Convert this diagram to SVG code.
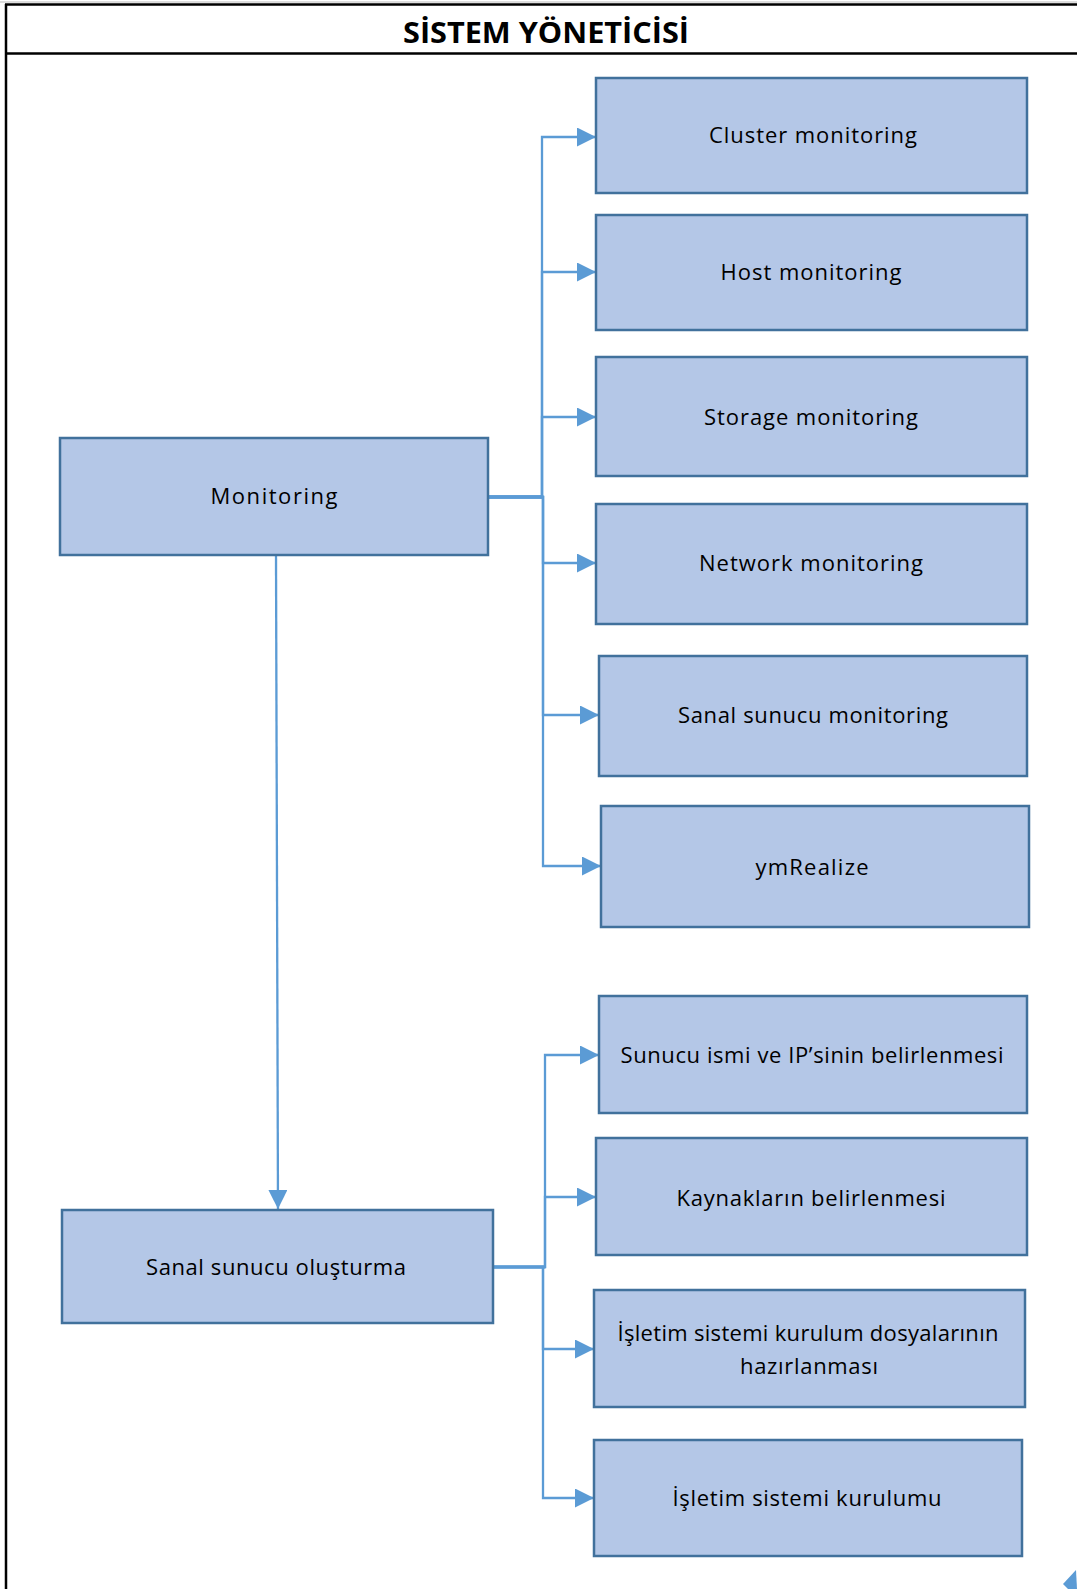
<svg xmlns="http://www.w3.org/2000/svg" width="1077" height="1589" viewBox="0 0 1077 1589">
<defs>
<style>
.box{fill:#B4C7E7;stroke:#41719C;stroke-width:2.5}
.lbl{font-family:"Open Sans","Liberation Sans",sans-serif;font-size:22px;fill:#000;text-anchor:middle}
.title{font-family:"Open Sans","Liberation Sans",sans-serif;font-size:29px;font-weight:bold;fill:#000;text-anchor:middle}
.con{fill:none;stroke:#5B9BD5;stroke-width:2.3}
.frame{fill:none;stroke:#000;stroke-width:2.5}
</style>
<marker id="arr" markerUnits="userSpaceOnUse" markerWidth="20" markerHeight="20" refX="19" refY="9.5" orient="auto">
<polygon points="0,0 19,9.5 0,19" fill="#5B9BD5"/>
</marker>
</defs>
<rect width="1077" height="1589" fill="#fff"/>
<g id="frame">
<line x1="0" y1="2" x2="1077" y2="2" stroke="#bbb" stroke-width="1"/>
<line x1="5" y1="4.5" x2="1077" y2="4.5" class="frame"/>
<line x1="6" y1="4" x2="6" y2="1589" class="frame"/>
<line x1="5" y1="53.5" x2="1077" y2="53.5" class="frame"/>
<text id="title" class="title" x="546" y="43" textLength="286" lengthAdjust="spacingAndGlyphs">SİSTEM YÖNETİCİSİ</text>
</g>
<g id="connectors">
<line x1="488" y1="497" x2="543" y2="497" stroke="#5B9BD5" stroke-width="3.5"/>
<path class="con" d="M488,497 H542 V137 H596" marker-end="url(#arr)"/>
<path class="con" d="M488,497 H542 V272 H596" marker-end="url(#arr)"/>
<path class="con" d="M488,497 H542 V417 H596" marker-end="url(#arr)"/>
<path class="con" d="M488,497 H543 V563 H596" marker-end="url(#arr)"/>
<path class="con" d="M488,497 H543 V715 H599" marker-end="url(#arr)"/>
<path class="con" d="M488,497 H543 V866 H601" marker-end="url(#arr)"/>
<path class="con" d="M276,556 L278,1209" marker-end="url(#arr)"/>
<line x1="493" y1="1267" x2="545" y2="1267" stroke="#5B9BD5" stroke-width="3.2"/>
<path class="con" d="M493,1267 H545 V1055 H599" marker-end="url(#arr)"/>
<path class="con" d="M493,1267 H545 V1197 H596" marker-end="url(#arr)"/>
<path class="con" d="M493,1267 H543 V1349 H594" marker-end="url(#arr)"/>
<path class="con" d="M493,1267 H543 V1498 H594" marker-end="url(#arr)"/>
<polygon points="1063,1584 1076,1570 1077,1589 1068,1589" fill="#5B9BD5"/>
</g>
<g id="n-monitoring"><rect class="box" x="60" y="438" width="428" height="117"/><text class="lbl" x="274" y="504" textLength="127" lengthAdjust="spacing">Monitoring</text></g>
<g id="n-cluster"><rect class="box" x="596" y="78" width="431" height="115"/><text class="lbl" x="813" y="143" textLength="208" lengthAdjust="spacing">Cluster monitoring</text></g>
<g id="n-host"><rect class="box" x="596" y="215" width="431" height="115"/><text class="lbl" x="811" y="280" textLength="181" lengthAdjust="spacing">Host monitoring</text></g>
<g id="n-storage"><rect class="box" x="596" y="357" width="431" height="119"/><text class="lbl" x="811" y="425" textLength="214" lengthAdjust="spacing">Storage monitoring</text></g>
<g id="n-network"><rect class="box" x="596" y="504" width="431" height="120"/><text class="lbl" x="811" y="571" textLength="224" lengthAdjust="spacing">Network monitoring</text></g>
<g id="n-sanalmon"><rect class="box" x="599" y="656" width="428" height="120"/><text class="lbl" x="813" y="723" textLength="270" lengthAdjust="spacing">Sanal sunucu monitoring</text></g>
<g id="n-ymrealize"><rect class="box" x="601" y="806" width="428" height="121"/><text class="lbl" x="812" y="875" textLength="113" lengthAdjust="spacing">ymRealize</text></g>
<g id="n-sanalolus"><rect class="box" x="62" y="1210" width="431" height="113"/><text class="lbl" x="276" y="1275" textLength="260" lengthAdjust="spacing">Sanal sunucu oluşturma</text></g>
<g id="n-sunucu"><rect class="box" x="599" y="996" width="428" height="117"/><text class="lbl" x="812" y="1063" textLength="383" lengthAdjust="spacing">Sunucu ismi ve IP’sinin belirlenmesi</text></g>
<g id="n-kaynak"><rect class="box" x="596" y="1138" width="431" height="117"/><text class="lbl" x="811" y="1206" textLength="269" lengthAdjust="spacing">Kaynakların belirlenmesi</text></g>
<g id="n-dosya"><rect class="box" x="594" y="1290" width="431" height="117"/><text class="lbl" x="808" y="1341" textLength="381" lengthAdjust="spacing">İşletim sistemi kurulum dosyalarının</text><text class="lbl" x="809" y="1374" textLength="138" lengthAdjust="spacing">hazırlanması</text></g>
<g id="n-kurulum"><rect class="box" x="594" y="1440" width="428" height="116"/><text class="lbl" x="807" y="1506" textLength="269" lengthAdjust="spacing">İşletim sistemi kurulumu</text></g>
</svg>
